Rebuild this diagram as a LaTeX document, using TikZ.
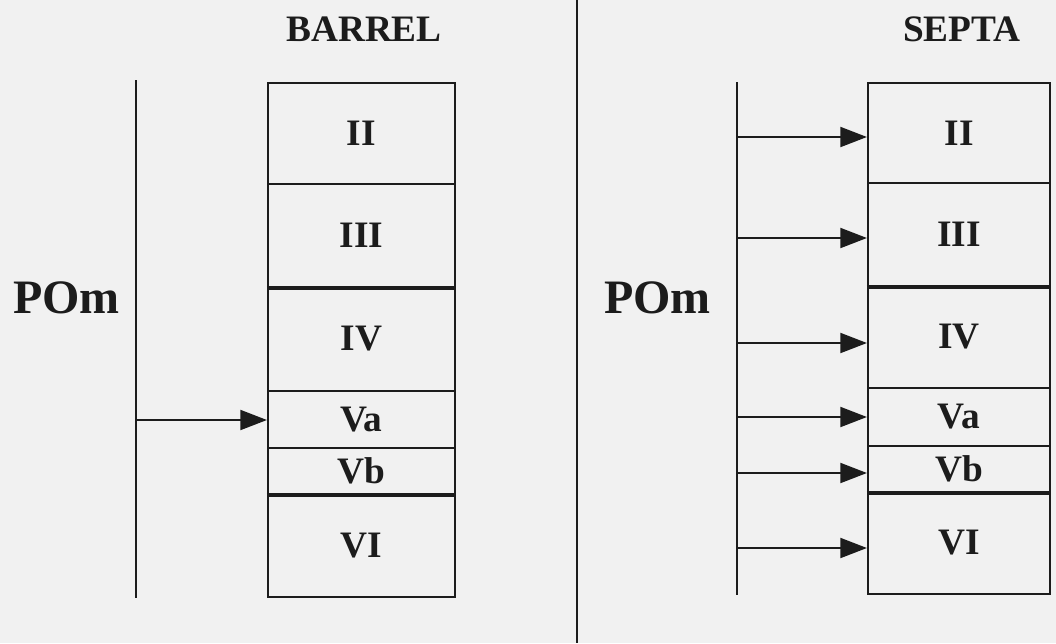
\documentclass[tikz,border=0pt]{standalone}
\usepackage{fontspec}
\setmainfont{Liberation Serif}
\usetikzlibrary{arrows.meta}
\definecolor{bg}{RGB}{241,241,241}
\definecolor{ink}{RGB}{28,28,28}
\begin{document}
\begin{tikzpicture}[x=0.75pt,y=-0.75pt,
  cellbox/.style={draw=ink, line width=1.6pt, inner sep=0pt,
    font=\fontsize{28}{28}\selectfont\bfseries, text=ink},
  lcell/.style={cellbox, minimum width=187*0.75pt},
  rcell/.style={cellbox, minimum width=182*0.75pt},
  headlbl/.style={font=\fontsize{28}{28}\selectfont\bfseries, text=ink, inner sep=0pt},
  pomlbl/.style={font=\fontsize{36}{36}\selectfont\bfseries, text=ink, inner sep=0pt},
  stem/.style={draw=ink, line width=1.6pt},
  divline/.style={draw=ink, line width=1.6pt},
  thickline/.style={draw=ink, line width=2.8pt},
  arr/.style={draw=ink, line width=1.6pt, -{Triangle[length=20pt,width=15pt]}}
]
\useasboundingbox[fill=bg] (0,0) rectangle (1056,643);

% divider
\coordinate (dtop) at (577,0);
\coordinate (dbot) at (577,643);
\draw[divline] (dtop) -- (dbot);

% ---------- left panel ----------
\node[headlbl] (barrel) at (364,29) {BARREL};
\node[pomlbl] (pomL) at (66.5,297.5) {POm};
\coordinate (lstemtop) at (136,80);
\coordinate (lstembot) at (136,598);
\draw[stem] (lstemtop) -- (lstembot);

\node[lcell, minimum height=101*0.75pt] (L2) at (361.5,133.5) {II};
\node[lcell, minimum height=103*0.75pt] (L3) at (361.5,235.5) {III};
\node[lcell, minimum height=104*0.75pt] (L4) at (361.5,339) {IV};
\node[lcell, minimum height=57*0.75pt] (La) at (361.5,419.5) {Va};
\node[lcell, minimum height=46*0.75pt] (Lb) at (361.5,471) {Vb};
\node[lcell, minimum height=103*0.75pt] (L6) at (361.5,545.5) {VI};
\draw[thickline] (L3.south west) -- (L3.south east);
\draw[thickline] (Lb.south west) -- (Lb.south east);

\coordinate (ls) at (136,420);
\draw[arr] (ls) -- (La.west |- ls);

% ---------- right panel ----------
\node[headlbl] (septa) at (962,29) {SEPTA};
\node[pomlbl] (pomR) at (657.5,297.5) {POm};
\coordinate (rstemtop) at (737,82);
\coordinate (rstembot) at (737,595);
\draw[stem] (rstemtop) -- (rstembot);

\node[rcell, minimum height=100*0.75pt] (R2) at (959,133) {II};
\node[rcell, minimum height=103*0.75pt] (R3) at (959,234.5) {III};
\node[rcell, minimum height=102*0.75pt] (R4) at (959,337) {IV};
\node[rcell, minimum height=58*0.75pt] (Ra) at (959,417) {Va};
\node[rcell, minimum height=46*0.75pt] (Rb) at (959,469) {Vb};
\node[rcell, minimum height=102*0.75pt] (R6) at (959,543) {VI};
\draw[thickline] (R3.south west) -- (R3.south east);
\draw[thickline] (Rb.south west) -- (Rb.south east);

\coordinate (rs2) at (737,137);
\coordinate (rs3) at (737,238);
\coordinate (rs4) at (737,343);
\coordinate (rsa) at (737,417);
\coordinate (rsb) at (737,473);
\coordinate (rs6) at (737,548);
\draw[arr] (rs2) -- (R2.west |- rs2);
\draw[arr] (rs3) -- (R3.west |- rs3);
\draw[arr] (rs4) -- (R4.west |- rs4);
\draw[arr] (rsa) -- (Ra.west |- rsa);
\draw[arr] (rsb) -- (Rb.west |- rsb);
\draw[arr] (rs6) -- (R6.west |- rs6);
\end{tikzpicture}
\end{document}
